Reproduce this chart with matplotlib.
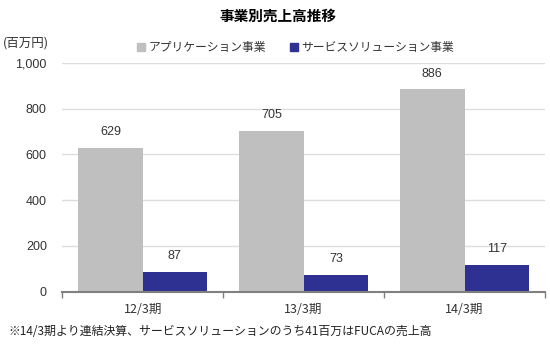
import numpy as np
import matplotlib.pyplot as plt
from matplotlib.patches import Patch

plt.rcParams['font.family'] = ['Noto Sans CJK JP', 'DejaVu Sans']

categories = ["12/3期", "13/3期", "14/3期"]
app_sales = [629, 705, 886]
sol_sales = [87, 73, 117]
series_names = ["アプリケーション事業", "サービスソリューション事業"]
colors = ["#BFBFBF", "#2E3192"]

fig = plt.figure(figsize=(5.5, 3.45), dpi=100)
ax = fig.add_axes([0.113, 0.155, 0.878, 0.662])

x = np.arange(len(categories))
w = 0.40
b1 = ax.bar(x - w / 2, app_sales, w, color=colors[0])
b2 = ax.bar(x + w / 2, sol_sales, w, color=colors[1])
for bars, vals in [(b1, app_sales), (b2, sol_sales)]:
    for r, v in zip(bars, vals):
        ax.text(r.get_x() + r.get_width() / 2, v + 42, str(v),
                ha="center", va="bottom", fontsize=9, color="#333333",
                family="Liberation Sans")

ax.set_xlim(-0.5, 2.5)
ax.set_ylim(0, 1000)
ax.set_yticks(range(0, 1001, 200))
ax.set_yticklabels(["0", "200", "400", "600", "800", "1,000"],
                   family="Liberation Sans", fontsize=9, color="#333333")
ax.yaxis.grid(True, color="#DDDDDD", linewidth=1)
ax.set_axisbelow(True)
ax.tick_params(axis="y", length=0, pad=11)

ax.set_xticks(x)
ax.set_xticklabels(categories, fontsize=9, color="#333333")
ax.tick_params(axis="x", length=0, pad=8)
ax.set_xticks([-0.5, 0.5, 1.5, 2.5], minor=True)
ax.tick_params(axis="x", which="minor", length=4, color="#808080", width=1)

for s in ["top", "right", "left"]:
    ax.spines[s].set_visible(False)
ax.spines["bottom"].set_color("#808080")
ax.spines["bottom"].set_linewidth(1.5)

fig.text(0.506, 0.955, "事業別売上高推移", ha="center", va="center",
         fontsize=10.5, fontweight="bold")
fig.text(0.005, 0.875, "(百万円)", ha="left", va="center", fontsize=9,
         color="#333333")
fig.text(0.015, 0.04, "※14/3期より連結決算、サービスソリューションのうち41百万はFUCAの売上高",
         ha="left", va="center", fontsize=8.6, color="#222222")

handles = [Patch(color=c) for c in colors]
fig.legend(handles, series_names, loc="center", bbox_to_anchor=(0.537, 0.862),
           ncol=2, frameon=False, fontsize=8.5, handlelength=0.7,
           handleheight=0.7, handletextpad=0.3, columnspacing=2.0,
           labelcolor="#333333")

fig.savefig("out.png", dpi=100)
